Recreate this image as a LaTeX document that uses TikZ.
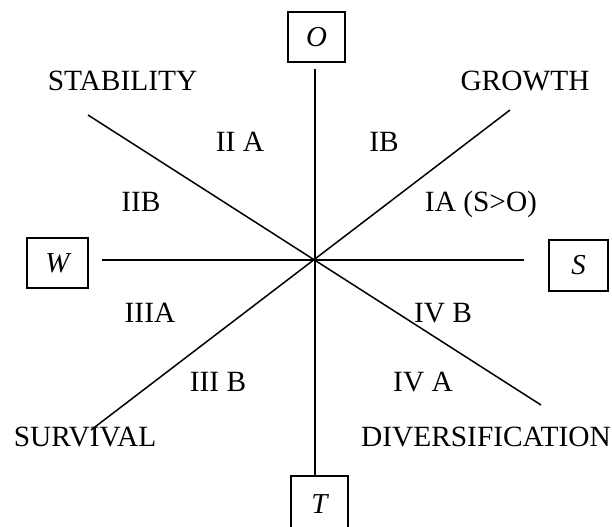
\documentclass[tikz,border=0pt]{standalone}
\usepackage{fontspec}
\setmainfont{Liberation Serif}
\begin{document}
\begin{tikzpicture}[x=1bp,y=-1bp,
  lbl/.style={inner sep=0pt,anchor=base,font=\fontsize{29.5}{31}\selectfont},
  axbox/.style={draw,line width=1.6bp,inner sep=0pt,font=\fontsize{29}{31}\selectfont\itshape},
  axis/.style={line width=1.5bp}]
\clip (0,0) rectangle (612,527);
\fill[white] (0,0) rectangle (612,527);
% boxes
\node[axbox,minimum width=57bp,minimum height=50bp] (O) at (316.5,37) {O};
\node[axbox,minimum width=61bp,minimum height=50bp] (W) at (57.5,263) {W};
\node[axbox,minimum width=59bp,minimum height=51bp] (S) at (578.5,265.5) {S};
\node[axbox,minimum width=57bp,minimum height=56bp] (T) at (319.5,504) {T};
% axis ends
\coordinate (c) at (315,260);
\coordinate (vt) at (315,69);
\coordinate (vb) at (315,476);
\coordinate (hl) at (102,260);
\coordinate (hr) at (524,260);
\coordinate (d1a) at (88,115);
\coordinate (d1b) at (541,405);
\coordinate (d2a) at (510,110);
\coordinate (d2b) at (91,430);
\draw[axis] (vt) -- (vb);
\draw[axis] (hl) -- (hr);
\draw[axis] (d1a) -- (d1b);
\draw[axis] (d2a) -- (d2b);
% labels
\node[lbl] (stab) at (122.5,91) {STABILITY};
\node[lbl] (grow) at (525,91) {GROWTH};
\node[lbl] (surv) at (85,446) {SURVIVAL};
\node[lbl] (div) at (486,446) {DIVERSIFICATION};
\node[lbl] (iia) at (240,152) {II A};
\node[lbl] (ib) at (384,152) {IB};
\node[lbl] (iib) at (141,212) {IIB};
\node[lbl] (ia) at (481,212) {IA (S>O)};
\node[lbl] (iiia) at (150,322) {IIIA};
\node[lbl] (ivb) at (443,322) {IV B};
\node[lbl] (iiib) at (218,391) {III B};
\node[lbl] (iva) at (423,391) {IV A};
\end{tikzpicture}
\end{document}
